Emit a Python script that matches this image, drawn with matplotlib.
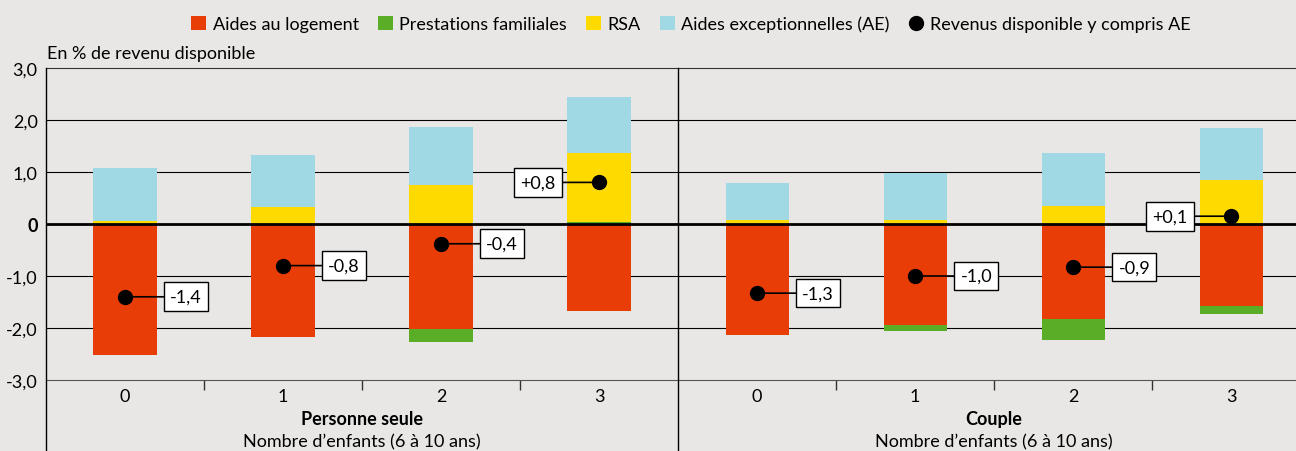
import numpy as np
import matplotlib
matplotlib.use("Agg")
import matplotlib.pyplot as plt
from matplotlib.patches import Patch
from matplotlib.lines import Line2D

# data
categories = ["0", "1", "2", "3"]
groups = ["Personne seule", "Couple"]
logement = [-2.52, -2.17, -2.02, -1.67, -2.13, -1.94, -1.83, -1.58]
familiales = [0.0, 0.0, -0.25, 0.03, 0.0, -0.11, -0.40, -0.15]
rsa = [0.06, 0.33, 0.75, 1.34, 0.07, 0.07, 0.35, 0.85]
ae = [1.02, 1.00, 1.12, 1.07, 0.72, 0.91, 1.02, 1.00]
revenu = [-1.40, -0.80, -0.38, 0.80, -1.33, -1.00, -0.83, 0.15]
revenu_labels = ["-1,4", "-0,8", "-0,4", "+0,8", "-1,3", "-1,0", "-0,9", "+0,1"]
series_names = ["Aides au logement", "Prestations familiales", "RSA", "Aides exceptionnelles (AE)"]
dot_name = "Revenus disponible y compris AE"

colors = ["#e93d08", "#5aad27", "#ffda00", "#a0d8e3"]
bg = "#e8e7e5"

plt.rcParams['font.family'] = ['Lato', 'DejaVu Sans']

fig = plt.figure(figsize=(12.96, 4.52), dpi=100, facecolor=bg)
ax = fig.add_axes([46 / 1296, 71 / 452, 1 - 46 / 1296, 312 / 452])
ax.set_facecolor(bg)

x = np.arange(len(logement))
width = 0.4

# stack positive parts upward and negative parts downward
pos_bottom = np.zeros(len(x))
neg_bottom = np.zeros(len(x))
for vals, col in zip([logement, familiales, rsa, ae], colors):
    vals = np.array(vals)
    bottom = np.where(vals >= 0, pos_bottom, neg_bottom)
    ax.bar(x, vals, width, bottom=bottom, color=col, zorder=3)
    pos_bottom += np.clip(vals, 0, None)
    neg_bottom += np.clip(vals, None, 0)

ax.plot(x, revenu, 'o', color='black', markersize=10, zorder=5)

for xi, v, lab in zip(x, revenu, revenu_labels):
    dx = -44 if v > 0 else 44
    ax.annotate(lab, xy=(xi, v), xytext=(dx, 0), textcoords='offset points',
                ha='center', va='center', fontsize=13, zorder=6,
                bbox=dict(boxstyle='square,pad=0.35', fc='white', ec='black', lw=1),
                arrowprops=dict(arrowstyle='-', color='black', lw=1.2, shrinkA=0, shrinkB=0))

# grid lines
for yv in [-2, -1, 1, 2]:
    ax.axhline(yv, color='black', lw=0.8, zorder=1)
ax.axhline(0, color='black', lw=2, zorder=4)

ax.set_ylim(-3, 3)
ax.set_xlim(-0.5, 7.41)
ax.set_yticks([-3, -2, -1, 0, 1, 2, 3])
ax.set_yticklabels(["-3,0", "-2,0", "-1,0", "0", "1,0", "2,0", "3,0"], fontsize=13)
ax.get_yticklabels()[3].set_fontweight('bold')
ax.tick_params(axis='y', length=0, pad=6)

ax.set_xticks(x)
ax.set_xticklabels(categories * 2, fontsize=13)
ax.set_xticks([0.5, 1.5, 2.5, 4.5, 5.5, 6.5], minor=True)
ax.tick_params(axis='x', which='major', length=0, pad=6)
ax.tick_params(axis='x', which='minor', length=7, width=1, direction='out', color='#333333')

for s in ['left', 'right']:
    ax.spines[s].set_visible(False)
ax.spines['top'].set_color('#333333')
ax.spines['bottom'].set_color('#555555')

# vertical separators running down to the figure bottom
for xv in [-0.5, 3.5]:
    ax.plot([xv, xv], [-3.0 - 6 * 0.2276, 3], color='black', lw=1, clip_on=False, zorder=6)

# group labels
for gi, g in enumerate(groups):
    cx = gi * 4 + 1.5
    ax.text(cx, -3.0 - 6 * 0.122, g, ha='center', va='center', fontsize=13, fontweight='bold')
    ax.text(cx, -3.0 - 6 * 0.198, "Nombre d’enfants (6 à 10 ans)", ha='center', va='center', fontsize=13)

fig.text(47 / 1296, 1 - 54 / 452, "En % de revenu disponible", ha='left', va='center', fontsize=13)

handles = [Patch(facecolor=c, edgecolor='none') for c in colors]
handles.append(Line2D([], [], marker='o', color='black', linestyle='none', markersize=10))
fig.legend(handles, series_names + [dot_name], loc='center', ncol=5,
           bbox_to_anchor=(691 / 1296, 1 - 25 / 452), frameon=False, fontsize=13,
           handlelength=0.85, handleheight=0.85, handletextpad=0.35, columnspacing=1.05)

fig.savefig("out.png", dpi=100, facecolor=bg)
